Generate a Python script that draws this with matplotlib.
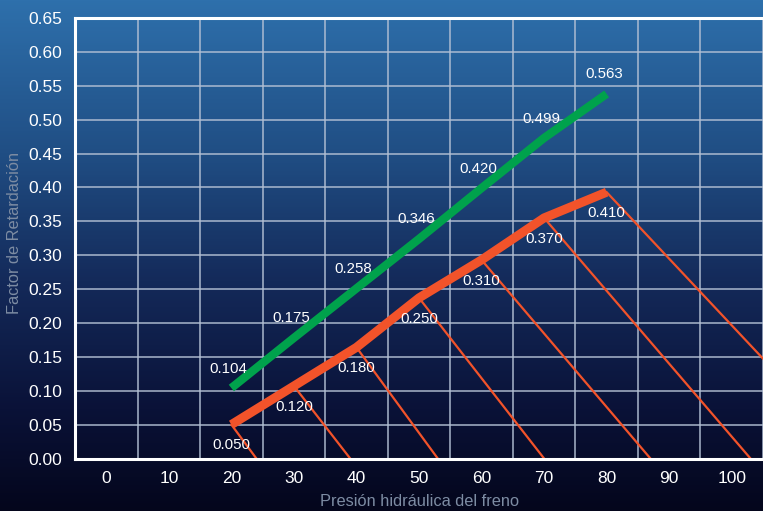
import numpy as np
import matplotlib
matplotlib.use('Agg')
import matplotlib.pyplot as plt
from matplotlib.colors import LinearSegmentedColormap

# ── datos ─────────────────────────────────────────────────────────────────────
presion = [20, 30, 40, 50, 60, 70, 80]
verde = [0.104, 0.178, 0.251, 0.324, 0.399, 0.473, 0.538]          # trazo leído
verde_etiq = ['0.104', '0.175', '0.258', '0.346', '0.420', '0.499', '0.563']
rojo = [0.050, 0.107, 0.164, 0.237, 0.293, 0.355, 0.393]            # trazo leído
rojo_etiq = ['0.050', '0.120', '0.180', '0.250', '0.310', '0.370', '0.410']
diag_fin = [24, 39, 53, 70, 87, 103, 120]   # x donde cada diagonal toca 0
x_ticks = [0, 10, 20, 30, 40, 50, 60, 70, 80, 90, 100]
y_ticks = [0.00, 0.05, 0.10, 0.15, 0.20, 0.25, 0.30, 0.35, 0.40, 0.45, 0.50,
           0.55, 0.60, 0.65]

VERDE = '#00a24c'
ROJO = '#f2532a'
GRIS = '#7d8ca3'

plt.rcParams.update({
    'font.family': ['Liberation Sans Narrow', 'Liberation Sans', 'DejaVu Sans'],
})

fig = plt.figure(figsize=(7.63, 5.11), dpi=100)

# ── fondo degradado ───────────────────────────────────────────────────────────
bg = fig.add_axes([0, 0, 1, 1], zorder=-1)
cmap = LinearSegmentedColormap.from_list('fondo', [
    (0.00, (46/255, 112/255, 172/255)),
    (0.30, (32/255, 78/255, 132/255)),
    (0.55, (20/255, 42/255, 90/255)),
    (0.80, (10/255, 18/255, 56/255)),
    (1.00, (4/255, 6/255, 28/255)),
])
grad = np.linspace(0, 1, 256).reshape(-1, 1)
bg.imshow(grad, aspect='auto', cmap=cmap, extent=[0, 1, 0, 1])
bg.axis('off')

ax = fig.add_axes([75/763, 1 - 458.5/511, 1 - 75/763, (458.5 - 18)/511])
ax.set_facecolor('none')
ax.set_xlim(-4.93, 104.45)
ax.set_ylim(0, 0.65)

# rejilla
ax.set_xticks(x_ticks)
ax.set_xticks(np.arange(-5, 106, 10), minor=True)
ax.set_yticks(y_ticks)
ax.set_yticklabels([f'{v:.2f}' for v in y_ticks])
ax.grid(True, which='minor', axis='x', color='#b3c0d4', alpha=0.8, lw=1.3)
ax.grid(True, which='major', axis='y', color='#b3c0d4', alpha=0.8, lw=1.3)
ax.tick_params(which='both', length=0)
ax.tick_params(axis='both', colors='white', labelsize=12.5)
ax.tick_params(axis='y', pad=9)
ax.tick_params(axis='x', pad=9)

for s in ['left', 'top', 'bottom']:
    ax.spines[s].set_color('white')
    ax.spines[s].set_linewidth(2.2)
ax.spines['right'].set_visible(False)

# diagonales
for x0, y0, xf in zip(presion, rojo, diag_fin):
    ax.plot([x0, xf], [y0, 0], color=ROJO, lw=1.6, zorder=2)

ax.plot(presion, rojo, color=ROJO, lw=6.5, solid_capstyle='butt', zorder=3)
ax.plot(presion, verde, color=VERDE, lw=6, solid_capstyle='butt', zorder=3)

for x, y, t in zip(presion, verde, verde_etiq):
    ax.annotate(t, (x, y), xytext=(-2, 14), textcoords='offset points',
                ha='center', va='center', color='white', fontsize=10.8,
                family=['Liberation Sans', 'DejaVu Sans'], zorder=4)
for x, y, t in zip(presion, rojo, rojo_etiq):
    ax.annotate(t, (x, y), xytext=(0, -15), textcoords='offset points',
                ha='center', va='center', color='white', fontsize=10.8,
                family=['Liberation Sans', 'DejaVu Sans'], zorder=4)

fig.text(420/763, 1 - 502/511, 'Presión hidráulica del freno', color=GRIS,
         fontsize=11.8, ha='center', va='center')
fig.text(15/763, 1 - 233/511, 'Factor de Retardación', color=GRIS,
         fontsize=11.8, ha='center', va='center', rotation=90)

fig.savefig('out.png', dpi=100)
